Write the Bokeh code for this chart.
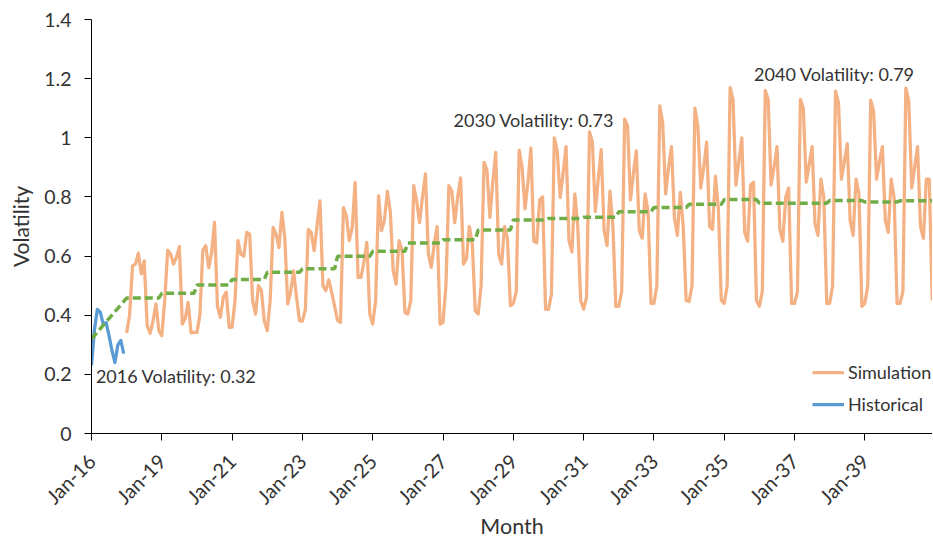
from math import pi
from bokeh.plotting import figure
from bokeh.models import (Range1d, FixedTicker, Legend, LegendItem, Label,
                          NumeralTickFormatter)
from bokeh.embed import file_html
from bokeh.resources import INLINE

# ---------------- data ----------------
month_abbr = ["Jan", "Feb", "Mar", "Apr", "May", "Jun",
              "Jul", "Aug", "Sep", "Oct", "Nov", "Dec"]
category_years = [2016] + list(range(2018, 2041))

# historical volatility, 2016 (monthly)
hist_2016 = [0.23, 0.35, 0.42, 0.41, 0.37, 0.375, 0.33, 0.28, 0.24, 0.30, 0.315, 0.27]

# simulated volatility (monthly, Jan..Dec)
sim_2018 = [0.34, 0.40, 0.567, 0.573, 0.61, 0.54, 0.584, 0.365, 0.339, 0.38, 0.438, 0.348]
sim_2019 = [0.331, 0.45, 0.62, 0.606, 0.573, 0.596, 0.632, 0.37, 0.39, 0.443, 0.34, 0.342]
sim_2020 = [0.342, 0.40, 0.62, 0.635, 0.56, 0.61, 0.714, 0.43, 0.393, 0.46, 0.478, 0.359]
sim_2021 = [0.36, 0.45, 0.652, 0.606, 0.60, 0.68, 0.674, 0.449, 0.404, 0.50, 0.483, 0.38]
sim_2022 = [0.348, 0.45, 0.697, 0.674, 0.629, 0.748, 0.66, 0.438, 0.48, 0.55, 0.46, 0.382]
sim_2023 = [0.38, 0.42, 0.69, 0.68, 0.618, 0.703, 0.787, 0.50, 0.483, 0.52, 0.477, 0.43]
sim_2024 = [0.382, 0.376, 0.764, 0.736, 0.652, 0.697, 0.849, 0.528, 0.528, 0.58, 0.646, 0.404]
sim_2025 = [0.37, 0.45, 0.804, 0.686, 0.72, 0.819, 0.75, 0.55, 0.505, 0.652, 0.62, 0.41]
sim_2026 = [0.404, 0.45, 0.838, 0.787, 0.713, 0.80, 0.878, 0.607, 0.562, 0.64, 0.70, 0.37]
sim_2027 = [0.376, 0.50, 0.838, 0.82, 0.713, 0.80, 0.864, 0.573, 0.59, 0.70, 0.64, 0.415]
sim_2028 = [0.404, 0.50, 0.917, 0.89, 0.731, 0.85, 0.951, 0.607, 0.573, 0.70, 0.66, 0.432]
sim_2029 = [0.44, 0.48, 0.958, 0.90, 0.76, 0.85, 0.965, 0.65, 0.645, 0.79, 0.80, 0.42]
sim_2030 = [0.42, 0.47, 1.0, 0.956, 0.798, 0.88, 0.97, 0.652, 0.614, 0.81, 0.70, 0.45]
sim_2031 = [0.42, 0.46, 1.02, 0.985, 0.75, 0.86, 0.96, 0.686, 0.635, 0.82, 0.70, 0.43]
sim_2032 = [0.43, 0.48, 1.063, 1.04, 0.79, 0.88, 0.956, 0.686, 0.66, 0.81, 0.75, 0.44]
sim_2033 = [0.44, 0.50, 1.108, 1.05, 0.81, 0.90, 0.97, 0.73, 0.67, 0.815, 0.70, 0.45]
sim_2034 = [0.446, 0.50, 1.10, 1.04, 0.83, 0.90, 0.985, 0.70, 0.69, 0.87, 0.76, 0.45]
sim_2035 = [0.44, 0.50, 1.17, 1.13, 0.84, 0.92, 1.0, 0.68, 0.65, 0.84, 0.85, 0.45]
sim_2036 = [0.43, 0.48, 1.16, 1.13, 0.84, 0.90, 0.97, 0.69, 0.65, 0.80, 0.83, 0.44]
sim_2037 = [0.44, 0.48, 1.13, 1.10, 0.85, 0.91, 0.97, 0.71, 0.67, 0.86, 0.80, 0.44]
sim_2038 = [0.44, 0.50, 1.158, 1.12, 0.86, 0.92, 0.98, 0.72, 0.67, 0.86, 0.81, 0.43]
sim_2039 = [0.44, 0.50, 1.127, 1.09, 0.86, 0.92, 0.97, 0.72, 0.68, 0.86, 0.80, 0.44]
sim_2040 = [0.44, 0.48, 1.168, 1.125, 0.83, 0.90, 0.97, 0.70, 0.66, 0.86, 0.86, 0.45]

sim_by_year = [sim_2018, sim_2019, sim_2020, sim_2021, sim_2022, sim_2023, sim_2024,
               sim_2025, sim_2026, sim_2027, sim_2028, sim_2029, sim_2030, sim_2031,
               sim_2032, sim_2033, sim_2034, sim_2035, sim_2036, sim_2037, sim_2038,
               sim_2039, sim_2040]

# yearly average volatility (trend line)
trend_2016 = 0.32
trend_years = list(range(2018, 2041))
trend_values = [0.458, 0.474, 0.502, 0.521, 0.545, 0.557, 0.599, 0.616, 0.644, 0.655,
                0.688, 0.722, 0.727, 0.731, 0.750, 0.764, 0.775, 0.791, 0.779, 0.779,
                0.788, 0.783, 0.787]

x_tick_labels = ["Jan-16", "Jan-19", "Jan-21", "Jan-23", "Jan-25", "Jan-27", "Jan-29",
                 "Jan-31", "Jan-33", "Jan-35", "Jan-37", "Jan-39"]
y_ticks = [0, 0.2, 0.4, 0.6, 0.8, 1, 1.2, 1.4]

annotations = ["2016 Volatility: 0.32", "2030 Volatility: 0.73", "2040 Volatility: 0.79"]

# ---------------- derived positions ----------------
categories = [f"{m}-{y % 100:02d}" for y in category_years for m in month_abbr]
cat_index = {c: i for i, c in enumerate(categories)}

hist_x = [cat_index[f"{m}-16"] for m in month_abbr]
sim_x, sim_y = [], []
for yr, vals in zip(range(2018, 2041), sim_by_year):
    for m, v in zip(month_abbr, vals):
        sim_x.append(cat_index[f"{m}-{yr % 100:02d}"])
        sim_y.append(v)

trend_x = [cat_index["Jan-16"]]
trend_y = [trend_2016]
for yr, v in zip(trend_years, trend_values):
    trend_x += [cat_index[f"Jan-{yr % 100:02d}"], cat_index[f"Dec-{yr % 100:02d}"]]
    trend_y += [v, v]

tick_pos = [cat_index[l] for l in x_tick_labels]

# ---------------- styling ----------------
FONT = "Lato"
TXT = "#333333"
ORANGE = "#F4B183"
BLUE = "#5B9BD5"
GREEN = "#70AD47"

W, H = 932, 541
X_END = len(categories) - 0.9

p = figure(width=W, height=H, output_backend="svg", toolbar_location=None,
           x_range=Range1d(0, X_END), y_range=Range1d(0, 1.4),
           min_border_left=91, min_border_right=0, min_border_top=19,
           min_border_bottom=108)
p.grid.visible = False
p.outline_line_color = None
p.background_fill_color = "white"
p.border_fill_color = "white"

r_sim = p.line(sim_x, sim_y, line_color=ORANGE, line_width=3.25, line_join="round")
r_hist = p.line(hist_x, hist_2016, line_color=BLUE, line_width=3.25, line_join="round")
p.line(trend_x, trend_y, line_color=GREEN, line_width=3.5, line_dash="8 4")

# axes
xa = p.xaxis[0]
xa.ticker = FixedTicker(ticks=tick_pos)
xa.major_label_overrides = {pos: lbl for pos, lbl in zip(tick_pos, x_tick_labels)}
xa.major_label_orientation = pi / 4
xa.minor_tick_line_color = None
xa.major_tick_out = 7
xa.major_tick_in = 0
xa.axis_line_color = "black"
xa.major_tick_line_color = "black"
xa.major_label_text_font = FONT
xa.major_label_text_font_size = "20px"
xa.major_label_text_color = TXT
xa.major_label_standoff = 17
xa.axis_label = "Month"
xa.axis_label_text_font = FONT
xa.axis_label_text_font_size = "21.5px"
xa.axis_label_text_font_style = "normal"
xa.axis_label_text_color = TXT
xa.axis_label_standoff = -7

ya = p.yaxis[0]
ya.ticker = FixedTicker(ticks=y_ticks)
ya.formatter = NumeralTickFormatter(format="0.[0]")
ya.minor_tick_line_color = None
ya.major_tick_out = 7
ya.major_tick_in = 0
ya.axis_line_color = "black"
ya.major_tick_line_color = "black"
ya.major_label_text_font = FONT
ya.major_label_text_font_size = "19.5px"
ya.major_label_text_color = TXT
ya.major_label_standoff = 13
ya.axis_label = "Volatility"
ya.axis_label_text_font = FONT
ya.axis_label_text_font_size = "21px"
ya.axis_label_text_font_style = "normal"
ya.axis_label_text_color = TXT
ya.axis_label_standoff = 8

# data labels
ann_pos = [(1.5, 0.193), (123.6, 1.06), (226.2, 1.215)]
for txt, (ax, ay) in zip(annotations, ann_pos):
    p.add_layout(Label(x=ax, y=ay, text=txt, text_font=FONT, text_font_size="18px",
                       text_color=TXT, text_baseline="middle", text_align="left"))

legend = Legend(items=[LegendItem(label="Simulation", renderers=[r_sim]),
                       LegendItem(label="Historical", renderers=[r_hist])],
                location=(721, 18))
legend.label_text_font = FONT
legend.label_text_font_size = "18px"
legend.label_text_color = TXT
legend.glyph_width = 32
legend.glyph_height = 20
legend.label_height = 20
legend.spacing = 10
legend.padding = 0
legend.margin = 0
legend.label_standoff = 4
legend.border_line_color = None
legend.background_fill_alpha = 0
p.add_layout(legend)

open("out.html", "w").write(file_html(p, INLINE))
